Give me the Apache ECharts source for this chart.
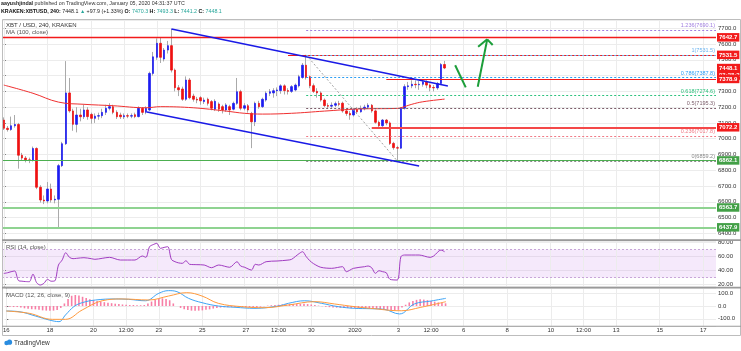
<!DOCTYPE html>
<html>
<head>
<meta charset="utf-8">
<script src="https://cdn.jsdelivr.net/npm/echarts/dist/echarts.min.js"></script>
<style>
  html, body { margin: 0; padding: 0; background: #fff; }
  #main { width: 741px; height: 351px; }
</style>
</head>
<body>
<div id="main"></div>
<script>
// 4h slots from Dec 16 2019 00:00 up to the right edge (Jan 17 ~16:00)
var slotCount = 196;
var timeTicks = [[0,'16'],[12,'18'],[24,'20'],[33,'12:00'],[42,'23'],[54,'25'],[66,'27'],[75,'12:00'],[84,'30'],
  [96,'2020'],[108,'3'],[117,'12:00'],[126,'6'],[138,'8'],[150,'10'],[159,'12:00'],[168,'13'],[180,'15'],[192,'17']];

// [open, close, low, high] per 4h candle
var candles = [
  [7118,7066,7055,7135],[7066,7058,7045,7080],[7058,7082,7050,7140],[7082,7090,7070,7150],[7090,6895,6810,7100],
  [6895,6877,6860,6910],[6877,6866,6850,6890],[6866,6862,6845,6880],[6862,6938,6855,6950],[6938,6692,6680,6945],
  [6692,6611,6595,6705],[6611,6605,6585,6640],[6605,6681,6590,6725],[6681,6611,6595,6715],[6611,6616,6590,6640],
  [6616,6829,6437.9,6840],[6829,6968,6820,6980],[6968,7290,6960,7492],[7290,7176,7165,7385],[7176,7091,7050,7190],
  [7091,7150,7040,7200],[7150,7139,7110,7190],[7139,7182,7125,7215],[7182,7140,7120,7200],[7154,7129,7095,7165],
  [7129,7143,7100,7160],[7143,7146,7120,7165],[7146,7167,7130,7190],[7167,7193,7150,7215],[7193,7203,7180,7225],
  [7203,7167,7155,7215],[7167,7139,7125,7180],[7150,7139,7125,7165],[7139,7146,7125,7160],[7146,7143,7130,7160],
  [7143,7146,7130,7160],[7152,7140,7130,7165],[7140,7193,7135,7205],[7193,7167,7150,7200],[7167,7193,7155,7205],
  [7182,7414,7175,7425],[7414,7519,7400,7550],[7516,7605,7500,7636],[7605,7516,7480,7640],[7505,7562,7490,7575],
  [7562,7590,7540,7620],[7590,7435,7420,7695],[7435,7323,7300,7445],[7323,7310,7270,7340],[7315,7250,7240,7330],
  [7250,7372,7240,7395],[7372,7260,7250,7385],[7270,7250,7235,7285],[7250,7245,7225,7265],[7260,7240,7215,7270],
  [7235,7245,7220,7260],[7250,7224,7210,7260],[7235,7193,7180,7245],[7187,7237,7175,7250],[7220,7187,7170,7230],
  [7203,7182,7160,7215],[7182,7214,7170,7225],[7203,7182,7150,7215],[7187,7224,7180,7235],[7224,7298,7215,7385],
  [7298,7193,7180,7310],[7193,7209,7180,7225],[7209,7182,7165,7220],[7160,7107,6940,7170],[7107,7224,7080,7235],
  [7224,7203,7190,7240],[7203,7250,7195,7260],[7245,7288,7235,7300],[7288,7298,7270,7315],[7290,7304,7260,7320],
  [7304,7309,7270,7325],[7305,7335,7285,7345],[7335,7305,7280,7345],[7305,7300,7280,7320],[7300,7330,7290,7340],
  [7309,7340,7300,7350],[7335,7393,7325,7405],[7388,7466,7380,7480],[7466,7388,7375,7531.5],[7393,7336,7320,7400],
  [7336,7300,7290,7350],[7300,7290,7260,7320],[7290,7245,7235,7300],[7245,7210,7200,7255],[7210,7206,7190,7225],
  [7206,7212,7195,7230],[7212,7222,7200,7235],[7222,7218,7205,7240],[7225,7176,7165,7235],[7176,7160,7145,7185],
  [7160,7150,7120,7175],[7150,7185,7140,7195],[7185,7170,7160,7200],[7170,7190,7165,7210],[7190,7200,7180,7215],
  [7200,7212,7190,7225],[7212,7176,7165,7220],[7176,7104,7095,7185],[7104,7082,7070,7115],[7082,7118,7075,7125],
  [7118,7100,7085,7125],[7100,6970,6960,7110],[6970,6943,6930,6980],[6943,6940,6859.2,6955],[6940,7193,6935,7200],
  [7193,7330,7185,7345],[7330,7335,7310,7360],[7335,7345,7320,7370],[7345,7342,7320,7370],[7342,7345,7310,7365],
  [7345,7360,7330,7375],[7360,7340,7320,7370],[7340,7325,7300,7350],[7325,7322,7300,7340],[7322,7350,7310,7360],
  [7350,7470,7345,7480],[7470.3,7448.1,7441.2,7493.3]
];

// MA(100) read at sample points [slot, price]
var maPoints = [[0,7340],[8,7288],[15,7232],[22,7218],[30,7209],[39,7196],[43,7203],[52,7196],[61,7175],[66,7161],
  [71,7156],[79,7161],[88,7175],[97,7188],[108,7192],[109,7196],[112,7218],[115,7234],[121,7251]];

var rsiPoints = [[0,36],[1,37],[2,38.5],[3,39.5],[4,26],[5,25],[6,24.5],[7,24.3],[8,35],[9,23],[10,19.6],[11,22],
  [12,27.7],[13,25],[14,25.5],[15,48],[16,55],[17,65.5],[18,59],[19,57],[20,57.5],[22,58.4],[24,57],[25,56.1],
  [27,57.5],[29,58.9],[32,55.1],[36,55.1],[38,60.8],[39,58.9],[40,74],[41,77],[42,78.8],[43,71.7],[44,73],[45,74],
  [46,56],[47,52.7],[48,51],[49,50.4],[50,54.1],[51,49],[53,48.5],[55,48],[57,44.2],[59,48],[62,44.8],[64,52.7],
  [65,46.6],[66,45],[68,40.9],[69,49],[70,48],[72,52.7],[75,53.7],[78,55],[79,56.1],[81,64],[82,66.9],[83,60],
  [84,54.1],[85,50],[87,44.8],[90,43.3],[93,45.6],[94,38.5],[96,43.3],[99,45.6],[100,46.6],[101,44],[102,36.2],
  [103,39.9],[104,38.5],[105,37],[106,27.7],[108,26.7],[109,59.8],[110,62.2],[114,62.2],[117,58.9],[118,60.8],
  [120,69.3],[121,66.9]];

var macdPoints = [[0,-39],[3.5,-44],[8,-78],[11.8,-109],[14.5,-122],[16.3,-70],[18.6,-5],[20.9,26],[24.6,47],
  [30,55],[33.7,52],[38.3,41],[42,99],[44.7,120],[47,112],[50.2,60],[53.9,26],[58.4,0],[63,-10],[68.5,-18],
  [74.9,0],[77.7,21],[82.2,41],[86.8,21],[91.4,-5],[95.9,-18],[100.3,-21],[104.1,-26],[108.3,-62],[112.4,16],
  [117,39],[121.1,60]];
var signalPoints = [[0,-39],[6.3,-57],[12.7,-104],[16.3,-104],[20.9,-31],[26.4,41],[31.9,55],[39.2,47],[44.7,78],
  [49.7,104],[53.9,78],[58.4,21],[64.8,-5],[71.2,-13],[77.7,8],[85,34],[90.4,16],[95.9,-5],[100.3,-18],
  [108.8,-37],[114.2,-10],[121.1,34]];
var histValues = [-3,-5,-8,-8,-12,-18,-22,-25,-26,-30,-34,-36,-37,-36,-32,-15,20,55,80,86,82,72,62,52,46,
  40,34,30,26,22,18,15,12,10,8,8,6,6,8,20,35,50,58,60,55,45,20,0,-15,-25,-32,-36,-37,-36,-34,-30,-26,-20,-15,-12,
  -10,-9,-8,-8,-6,-8,-10,-8,-12,-8,-5,-2,3,6,8,10,12,14,15,16,15,16,17,15,12,8,3,-2,-6,-9,-11,-13,-14,-15,-16,-17,
  -18,-18,-17,-17,-18,-19,-21,-24,-27,-29,-31,-31,-30,-12,10,28,40,48,52,50,46,40,34,28,24,21];

// horizontal levels and drawings
var fullLevels = [[7642.7,'#f21b1b',1.3],[6862.1,'#4caf50',1],[6563.7,'#8fd391',2],[6437.9,'#8fd391',2]];
var rayLevels = [[78,7531.5,'#f21b1b',1.2],[105,7378.9,'#f21b1b',1.2],[101,7072.2,'#f44848',2]];
var fibLevels = [[1.236,7690.1,'#a07ee0'],[1,7531.5,'#6cb4f0'],[0.786,7387.8,'#2a9df4'],[0.618,7274.6,'#2ec27e'],
  [0.5,7195.3,'#7b5d6a'],[0.236,7017.8,'#f07a86'],[0,6859.2,'#8a8a8a']];
var fibStart = 83;
var priceTags = [[7642.7,'7642.7','#f21b1b'],[7531.5,'7531.5','#f21b1b'],[7448.1,'7448.1\n03:28:28','#f21b1b'],
  [7378.9,'7378.9','#f21b1b'],[7072.2,'7072.2','#f21b1b'],[6862.1,'6862.1','#43a047'],[6563.7,'6563.7','#43a047'],
  [6437.9,'6437.9','#43a047']];
var channelUpper = [[46,7695],[121.9,7334]];
var channelLower = [[39.3,7169],[114,6827]];
var fibDiagonal = [[83,7531.5],[108,6859.2]];
var arrowDown = [[123.9,7466],[126.8,7325]];
var arrowUp = [[130.1,7329],[132.7,7630]];
var arrowHead = [[130.2,7583],[132.7,7630],[134.2,7594]];

var FONT = '"Liberation Sans", Arial, sans-serif';
var GRID = '#ececec';
var chart = echarts.init(document.getElementById('main'));

var categories = [];
for (var i = 0; i < slotCount; i++) categories.push(String(i));
var tickText = {};
timeTicks.forEach(function (t) { tickText[t[0]] = t[1]; });
var bodies = candles.map(function (c) { return [c[0], c[1], Math.min(c[0], c[1]), Math.max(c[0], c[1])]; });

function seg(points, color, width, type) {
  var out = [];
  for (var k = 0; k < points.length - 1; k++) {
    out.push([{ coord: points[k], lineStyle: { color: color, width: width, type: type || 'solid' } }, { coord: points[k + 1] }]);
  }
  return out;
}
var vGrid = timeTicks.map(function (t) { return { xAxis: t[0] }; });

var drawings = [];
fullLevels.forEach(function (l) { drawings.push({ yAxis: l[0], lineStyle: { color: l[1], width: l[2], type: 'solid' } }); });
rayLevels.forEach(function (l) {
  drawings.push([{ coord: [l[0], l[1]], lineStyle: { color: l[2], width: l[3], type: 'solid' } }, { coord: [slotCount - 0.5, l[1]] }]);
});
fibLevels.forEach(function (f) {
  drawings.push([{ coord: [fibStart, f[1]], lineStyle: { color: f[2], width: 1, type: [2, 2] },
    label: { show: true, position: 'insideEndTop', distance: 1, formatter: f[0] + '(' + f[1].toFixed(1) + ')',
      color: f[2], fontSize: 5.5, fontFamily: FONT } }, { coord: [slotCount - 0.5, f[1]] }]);
});
drawings = drawings.concat(seg(channelUpper, '#1a1ae6', 1.5), seg(channelLower, '#1a1ae6', 1.5),
  seg(fibDiagonal, '#a0a0a0', 1, [2, 2]), seg(arrowDown, '#1c9e3a', 2), seg(arrowUp, '#1c9e3a', 2),
  seg(arrowHead, '#1c9e3a', 2));
var tags = priceTags.map(function (t) {
  var two = t[1].indexOf('\n') > 0;
  return { yAxis: t[0], lineStyle: { color: 'rgba(0,0,0,0)' },
    label: { show: true, position: 'end', distance: 1, formatter: t[1], color: '#fff', backgroundColor: t[2],
      fontSize: 6, fontWeight: 'bold', fontFamily: FONT, lineHeight: 7.5, padding: [1, 2, 0, 2],
      offset: two ? [0, 3.8] : [0, 0] } };
});

function catAxis(grid, showLabel) {
  return { type: 'category', gridIndex: grid, data: categories, boundaryGap: true,
    axisLine: { show: false }, axisTick: { show: false }, splitLine: { show: false },
    axisLabel: { show: showLabel, interval: function (idx) { return tickText[idx] !== undefined; },
      formatter: function (v) { return tickText[+v] || ''; }, fontSize: 6, color: '#333', margin: 1, fontFamily: FONT } };
}
function valAxis(grid) { return { type: 'value', gridIndex: grid, min: -0.5, max: slotCount - 0.5, show: false }; }
function priceAxis(grid, min, max, step, digits) {
  return { type: 'value', gridIndex: grid, position: 'right', min: min, max: max, minInterval: step, maxInterval: step,
    splitNumber: 20, axisLine: { show: true, lineStyle: { color: '#8a8a8a' } },
    axisTick: { show: true, length: 2, lineStyle: { color: '#666' } },
    axisLabel: { fontSize: 6, color: '#333', margin: 2, fontFamily: FONT, showMinLabel: false, showMaxLabel: false,
      formatter: function (v) { return v.toFixed(digits); } },
    splitLine: { show: true, lineStyle: { color: GRID, width: 1 } } };
}
function gridLines(xIdx, yIdx) {
  return { type: 'line', xAxisIndex: xIdx, yAxisIndex: yIdx, data: [], silent: true,
    markLine: { silent: true, symbol: 'none', z: 1, label: { show: false }, animation: false,
      lineStyle: { color: GRID, width: 1, type: 'solid' }, data: vGrid } };
}

var option = {
  animation: false,
  backgroundColor: '#fff',
  grid: [
    { left: 2, right: 25, top: 20, height: 219.5 },
    { left: 2, right: 25, top: 241, height: 45.5 },
    { left: 2, right: 25, top: 288.5, height: 37.5 }
  ],
  xAxis: [catAxis(0, false), valAxis(0), catAxis(1, false), valAxis(1), catAxis(2, true), valAxis(2)],
  yAxis: [priceAxis(0, 6360.7, 7752.6, 100, 1), priceAxis(1, 17.5, 82.1, 20, 2), priceAxis(2, -156, 136.7, 100, 1)],
  series: [
    gridLines(1, 0), gridLines(3, 1), gridLines(5, 2),
    { type: 'candlestick', name: 'wick', xAxisIndex: 0, yAxisIndex: 0, data: candles, barWidth: 0.6, z: 3,
      itemStyle: { color: '#aaaaaa', color0: '#aaaaaa', borderColor: '#aaaaaa', borderColor0: '#aaaaaa', borderColorDoji: '#aaaaaa', borderWidth: 1 } },
    { type: 'candlestick', name: 'XBT/USD', xAxisIndex: 0, yAxisIndex: 0, data: bodies, barWidth: 2, z: 4,
      itemStyle: { color: '#1c1cf0', color0: '#ee1111', borderColor: '#1c1cf0', borderColor0: '#ee1111', borderColorDoji: '#333', borderWidth: 0.7 } },
    { type: 'line', name: 'MA (100, close)', xAxisIndex: 1, yAxisIndex: 0, data: maPoints, smooth: 0.4, symbol: 'none', z: 5,
      lineStyle: { color: '#f03030', width: 1 } },
    { type: 'line', name: 'drawings', xAxisIndex: 1, yAxisIndex: 0, data: [], z: 6,
      markLine: { silent: true, symbol: 'none', z: 6, animation: false, label: { show: false }, data: drawings } },
    { type: 'line', name: 'tags', xAxisIndex: 1, yAxisIndex: 0, data: [], z: 7,
      markLine: { silent: true, symbol: 'none', z: 8, animation: false, data: tags } },
    { type: 'line', name: 'RSI (14, close)', xAxisIndex: 3, yAxisIndex: 1, data: rsiPoints, smooth: 0.3, symbol: 'none', z: 5,
      lineStyle: { color: '#a03cc0', width: 1 },
      markArea: { silent: true, itemStyle: { color: 'rgba(190,120,230,0.16)' }, data: [[{ yAxis: 30 }, { yAxis: 70 }]] },
      markLine: { silent: true, symbol: 'none', label: { show: false }, animation: false,
        lineStyle: { color: '#c8a6d8', width: 1, type: [2, 2] }, data: [{ yAxis: 70 }, { yAxis: 30 }] } },
    { type: 'bar', name: 'Histogram', xAxisIndex: 4, yAxisIndex: 2, data: histValues, barWidth: 1.6, z: 3,
      itemStyle: { color: '#f77fa6' } },
    { type: 'line', name: 'MACD', xAxisIndex: 5, yAxisIndex: 2, data: macdPoints, smooth: 0.4, symbol: 'none', z: 5,
      lineStyle: { color: '#3ea4f5', width: 1 } },
    { type: 'line', name: 'Signal', xAxisIndex: 5, yAxisIndex: 2, data: signalPoints, smooth: 0.4, symbol: 'none', z: 5,
      lineStyle: { color: '#ff9a3c', width: 1 } }
  ],
  graphic: [
    { type: 'rect', shape: { x: 2.5, y: 19.5, width: 738, height: 316 }, style: { fill: 'none', stroke: '#bdbdbd', lineWidth: 1 }, silent: true, z: 50 },
    { type: 'rect', shape: { x: 2, y: 239.3, width: 739, height: 1.8 }, style: { fill: '#9a9a9a' }, silent: true, z: 50 },
    { type: 'rect', shape: { x: 2, y: 286.7, width: 739, height: 1.8 }, style: { fill: '#9a9a9a' }, silent: true, z: 50 },
    { type: 'rect', shape: { x: 2, y: 325.8, width: 739, height: 1 }, style: { fill: '#9a9a9a' }, silent: true, z: 50 },
    { type: 'text', x: 1, y: 1.5, silent: true, z: 50, style: { text: '{b|aayushjindal} published on TradingView.com, January 05, 2020 04:31:37 UTC',
      fill: '#333', fontSize: 5.3, fontFamily: FONT, rich: { b: { fontWeight: 'bold', fontSize: 5.3, fill: '#222', fontFamily: FONT } } } },
    { type: 'text', x: 1, y: 9.5, silent: true, z: 50, style: {
      text: '{k|KRAKEN:XBTUSD, 240:} 7448.1 {g|▲} +97.9 (+1.33%) {k|O:} {t|7470.3} {k|H:} {t|7493.3} {k|L:} {t|7441.2} {k|C:} {t|7448.1}',
      fill: '#222', fontSize: 5.3, fontFamily: FONT,
      rich: { k: { fill: '#111', fontSize: 5.3, fontWeight: 'bold', fontFamily: FONT }, g: { fill: '#26a69a', fontSize: 5.3, fontFamily: FONT },
        t: { fill: '#26a69a', fontSize: 5.3, fontFamily: FONT } } } },
    { type: 'text', x: 6, y: 22.5, silent: true, z: 50, style: { text: 'XBT / USD, 240, KRAKEN', fill: '#333', fontSize: 6, fontFamily: FONT } },
    { type: 'text', x: 6, y: 29.5, silent: true, z: 50, style: { text: 'MA (100, close)', fill: '#555', fontSize: 6, fontFamily: FONT } },
    { type: 'text', x: 6, y: 244.5, silent: true, z: 50, style: { text: 'RSI (14, close)', fill: '#555', fontSize: 6, fontFamily: FONT } },
    { type: 'text', x: 6, y: 292, silent: true, z: 50, style: { text: 'MACD (12, 26, close, 9)', fill: '#555', fontSize: 6, fontFamily: FONT } },
    { type: 'circle', shape: { cx: 6.5, cy: 343, r: 2.2 }, style: { fill: '#2a8de0' }, silent: true, z: 50 },
    { type: 'circle', shape: { cx: 9.5, cy: 342.2, r: 2.6 }, style: { fill: '#2a8de0' }, silent: true, z: 50 },
    { type: 'text', x: 14, y: 339.5, silent: true, z: 50, style: { text: 'TradingView', fill: '#333', fontSize: 6.5, fontFamily: FONT } }
  ]
};
chart.setOption(option);
</script>
</body>
</html>
